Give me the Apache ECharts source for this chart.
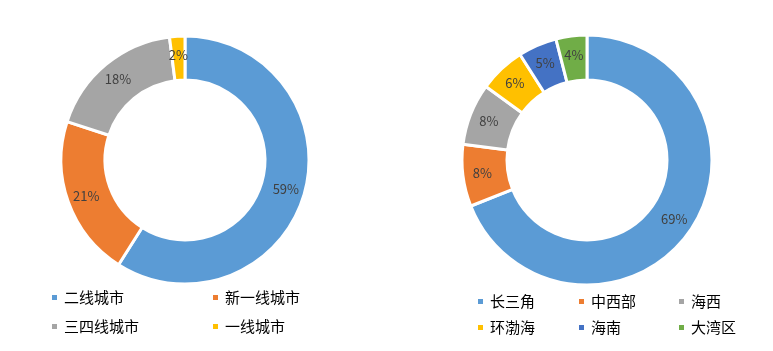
<!DOCTYPE html>
<html><head><meta charset="utf-8">
<script src="https://cdn.jsdelivr.net/npm/echarts@6/dist/echarts.min.js"></script>
<style>html,body{margin:0;padding:0;background:#fff}#c{width:773px;height:351px}</style>
</head><body><div id="c"></div>
<script>
const leftNames = ['二线城市', '新一线城市', '三四线城市', '一线城市'];
const leftValues = [59, 21, 18, 2];
const leftColors = ['#5B9BD5', '#ED7D31', '#A5A5A5', '#FFC000'];
const rightNames = ['长三角', '中西部', '海西', '环渤海', '海南', '大湾区'];
const rightValues = [69, 8, 8, 6, 5, 4];
const rightColors = ['#5B9BD5', '#ED7D31', '#A5A5A5', '#FFC000', '#4472C4', '#70AD47'];

const font = '"Noto Sans CJK SC", "Noto Sans", sans-serif';
function mk(names, values, colors) {
  return names.map((n, i) => ({ name: n, value: values[i], itemStyle: { color: colors[i] } }));
}
function lg(name, left, top) {
  return {
    data: [name], left: left, top: top, icon: 'rect', itemWidth: 7, itemHeight: 7,
    itemGap: 0, padding: 0, selectedMode: false,
    textStyle: { fontSize: 15, color: '#000', fontFamily: font, padding: [0, 0, 0, 1] }
  };
}
const legends = [
  lg(leftNames[0], 50, 290), lg(leftNames[1], 211, 290),
  lg(leftNames[2], 50, 319), lg(leftNames[3], 211, 319),
  lg(rightNames[0], 476, 294), lg(rightNames[1], 577, 294), lg(rightNames[2], 677, 294),
  lg(rightNames[3], 476, 320), lg(rightNames[4], 577, 320), lg(rightNames[5], 677, 320)
];
function pie(cx, r0, r1, data) {
  return {
    type: 'pie', center: [cx, 160], radius: [r0, r1], startAngle: 90, clockwise: true,
    avoidLabelOverlap: false, silent: true,
    itemStyle: { borderColor: '#fff', borderWidth: 3 },
    label: { show: true, position: 'inside', formatter: '{c}%', color: '#404040', fontSize: 13, fontFamily: font },
    labelLine: { show: false },
    data: data
  };
}
const chart = echarts.init(document.getElementById('c'), null, { renderer: 'canvas' });
chart.setOption({
  animation: false,
  legend: legends,
  series: [
    pie(185, 80, 124, mk(leftNames, leftValues, leftColors)),
    pie(587, 80, 125, mk(rightNames, rightValues, rightColors))
  ]
});
</script></body></html>
